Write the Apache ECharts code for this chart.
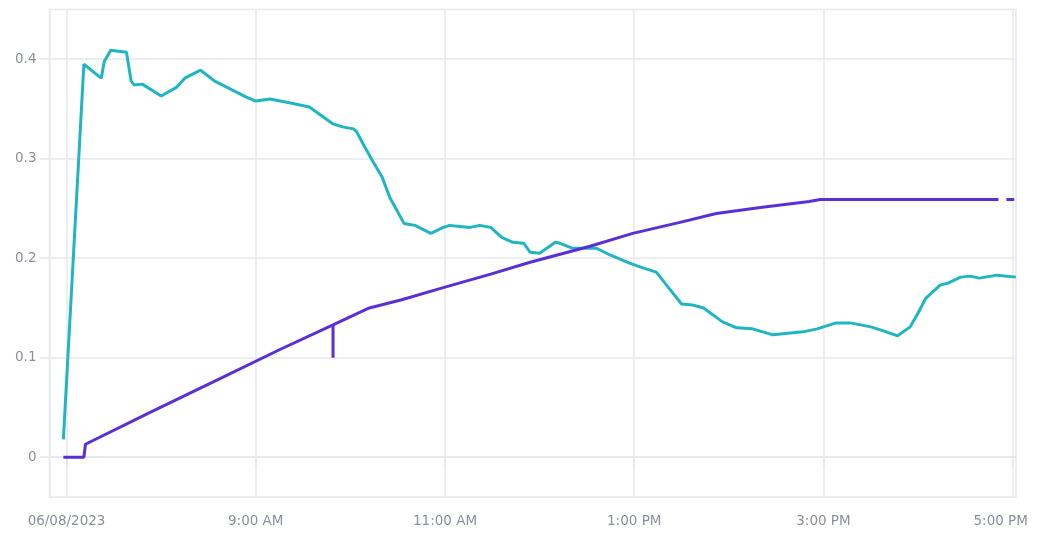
<!DOCTYPE html>
<html>
<head>
<meta charset="utf-8">
<script src="https://cdn.jsdelivr.net/npm/echarts@6/dist/echarts.min.js"></script>
<style>
html,body{margin:0;padding:0;background:#fff;}
#chart{width:1037px;height:535px;}
</style>
</head>
<body>
<div id="chart"></div>
<script>
const DAY = '2023-06-08';
const tealTimes = ['06:58','07:11','07:22','07:24','07:28','07:38','07:41','07:43','07:48','07:55','08:00','08:10','08:15','08:25','08:34','08:44','08:54','09:00','09:09','09:22','09:34','09:49','09:55','10:02','10:04','10:08','10:14','10:20','10:25','10:34','10:41','10:51','10:59','11:03','11:16','11:22','11:29','11:36','11:43','11:50','11:54','12:00','12:10','12:13','12:21','12:36','12:45','12:57','13:06','13:14','13:23','13:30','13:37','13:44','13:56','14:05','14:15','14:28','14:47','14:56','15:08','15:17','15:30','15:38','15:47','15:55','16:00','16:05','16:14','16:19','16:27','16:33','16:39','16:50','17:02'];
const tealValues = [0.018,0.395,0.381,0.398,0.409,0.407,0.378,0.374,0.375,0.368,0.363,0.372,0.381,0.389,0.378,0.370,0.362,0.358,0.360,0.356,0.352,0.335,0.332,0.330,0.327,0.315,0.298,0.282,0.261,0.235,0.233,0.225,0.231,0.233,0.231,0.233,0.231,0.221,0.216,0.215,0.206,0.205,0.216,0.215,0.210,0.210,0.203,0.195,0.190,0.186,0.168,0.154,0.153,0.150,0.136,0.130,0.129,0.123,0.126,0.129,0.135,0.135,0.131,0.127,0.122,0.131,0.145,0.160,0.173,0.175,0.181,0.182,0.180,0.183,0.181];
const purpleTimes = ['06:58','07:11','07:12','07:53','08:36','09:15','09:49','09:49','09:49','10:12','10:32','11:00','11:29','11:54','12:32','12:59','13:29','13:52','14:20','14:51','14:58','16:51','16:53','16:56','17:01'];
const purpleValues = [0,0,0.013,0.045,0.078,0.108,0.133,0.100,0.133,0.150,0.158,0.171,0.184,0.196,0.212,0.225,0.236,0.245,0.251,0.257,0.259,0.259,null,0.259,0.259];
const xTickTimes = ['07:00','09:00','11:00','13:00','15:00','17:00'];
const xTickLabels = ['06/08/2023','9:00 AM','11:00 AM','1:00 PM','3:00 PM','5:00 PM'];
const yTicks = [0,0.1,0.2,0.3,0.4];
const xMin = '06:49:12';
const xMax = '17:02:06';

const ts = t => new Date(DAY + 'T' + (t.length === 5 ? t + ':00' : t)).getTime();
const tickVals = xTickTimes.map(ts);
const GRID = '#e6e8ee';
const LABEL = '#8a8f9e';
const FONT = 'DejaVu Sans';
const FS = 13.5;

const chart = echarts.init(document.getElementById('chart'), null, {renderer: 'canvas'});
chart.setOption({
  animation: false,
  backgroundColor: '#fff',
  grid: {left: 49.5, right: 21, top: 9.5, bottom: 38, show: true, borderColor: GRID, borderWidth: 1.5,
         containLabel: false, outerBoundsMode: 'none'},
  xAxis: {
    type: 'value',
    min: ts(xMin), max: ts(xMax),
    axisLine: {show: true, lineStyle: {color: GRID, width: 1.5}},
    axisTick: {show: true, length: 10, customValues: tickVals, lineStyle: {color: GRID, width: 1.5}},
    splitLine: {show: true, lineStyle: {color: GRID, width: 1.5}},
    axisLabel: {
      customValues: tickVals,
      margin: 17,
      color: LABEL,
      fontFamily: FONT,
      fontSize: FS,
      hideOverlap: false,
      formatter: v => {
        const i = tickVals.indexOf(v);
        if (i < 0) return '';
        return i === tickVals.length - 1 ? '{last|' + xTickLabels[i] + '}' : xTickLabels[i];
      },
      rich: {last: {color: LABEL, fontFamily: FONT, fontSize: FS, padding: [0, 24, 0, 0]}}
    }
  },
  yAxis: {
    type: 'value',
    min: -0.04, max: 0.45,
    axisLine: {show: true, lineStyle: {color: GRID, width: 1.5}},
    axisTick: {show: true, length: 10, customValues: yTicks, lineStyle: {color: GRID, width: 1.5}},
    splitLine: {show: true, lineStyle: {color: GRID, width: 1.5}},
    axisLabel: {customValues: yTicks, margin: 13, color: LABEL, fontFamily: FONT, fontSize: FS}
  },
  series: [
    {
      type: 'line', name: 'teal', showSymbol: false, connectNulls: false,
      data: tealTimes.map((t, i) => [ts(t), tealValues[i]]),
      lineStyle: {color: '#1fb6c1', width: 3},
      itemStyle: {color: '#1fb6c1'}
    },
    {
      type: 'line', name: 'purple', showSymbol: false, connectNulls: false,
      data: purpleTimes.map((t, i) => [ts(t), purpleValues[i]]),
      lineStyle: {color: '#5b2fd8', width: 3},
      itemStyle: {color: '#5b2fd8'}
    }
  ]
});
</script>
</body>
</html>
